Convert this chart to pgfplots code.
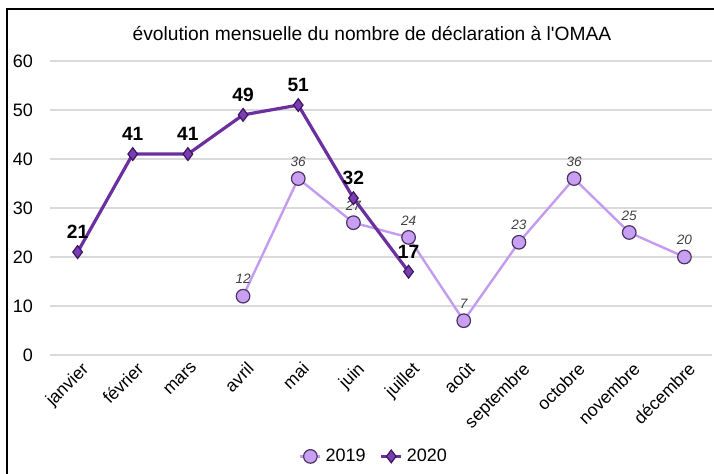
\documentclass[border=0pt]{standalone}
\usepackage{fontspec}
\setmainfont{Liberation Sans}
\usepackage{pgfplots}
\pgfplotsset{compat=1.18}
\definecolor{c19}{HTML}{C39BF0}
\definecolor{c19f}{HTML}{C99FF3}
\definecolor{c19e}{HTML}{4A3462}
\definecolor{c20}{HTML}{6B2FA0}
\definecolor{c20f}{HTML}{7A3DB2}
\definecolor{c20e}{HTML}{3A1860}
\definecolor{gridc}{HTML}{DADADA}
\begin{document}
\begin{tikzpicture}
\path[use as bounding box] (0pt,0pt) rectangle (357pt,237pt);
\draw[line width=1pt] (3.5pt,0pt) -- (3.5pt,232.5pt) -- (357pt,232.5pt);
\node[font=\fontsize{9.6}{11}\selectfont] at (186pt,220pt) {évolution mensuelle du nombre de déclaration à l\textquotesingle OMAA};
\begin{axis}[
  at={(25pt,59.5pt)}, anchor=south west, scale only axis,
  width=331pt, height=147pt,
  xmin=-0.5, xmax=11.5, ymin=0, ymax=60,
  ytick={0,10,...,60},
  xtick={0,...,11},
  xticklabels={janvier,février,mars,avril,mai,juin,juillet,août,septembre,octobre,novembre,décembre},
  x tick label style={rotate=45, anchor=north east, font=\fontsize{8.8}{10}\selectfont, inner sep=1pt, yshift=-2pt},
  y tick label style={font=\fontsize{9}{10}\selectfont, xshift=-5pt},
  /pgf/number format/assume math mode=true,
  axis line style={draw=none},
  major tick length=0pt,
  ymajorgrids, major grid style={gridc, line width=0.6pt},
  clip=false,
  legend style={draw=none, at={(0.491,-0.345)}, anchor=center, legend columns=2,
    font=\fontsize{9}{10}\selectfont,
    /tikz/every even column/.append style={column sep=5pt}},
  legend image code/.code={\draw[#1] (0pt,0pt) -- (5pt,0pt) -- (10pt,0pt);\path[#1,only marks] plot coordinates {(5pt,0pt)};},
]
\addplot[c19, line width=1.2pt, mark=*, mark size=3.4pt,
  mark options={fill=c19f, draw=c19e, line width=0.6pt},
  nodes near coords,
  every node near coord/.append style={font=\fontsize{6.8}{8}\selectfont\itshape, text=black!75, yshift=2.5pt}]
coordinates {(3,12) (4,36) (5,27) (6,24) (7,7) (8,23) (9,36) (10,25) (11,20)};
\addlegendentry{2019}
\addplot[c20, line width=1.6pt, mark=diamond*, mark size=3.2pt,
  mark options={fill=c20f, draw=c20e, line width=0.6pt},
  nodes near coords,
  every node near coord/.append style={font=\fontsize{9.6}{11}\selectfont\bfseries, text=black, yshift=3pt}]
coordinates {(0,21) (1,41) (2,41) (3,49) (4,51) (5,32) (6,17)};
\addlegendentry{2020}
\end{axis}
\end{tikzpicture}
\end{document}
